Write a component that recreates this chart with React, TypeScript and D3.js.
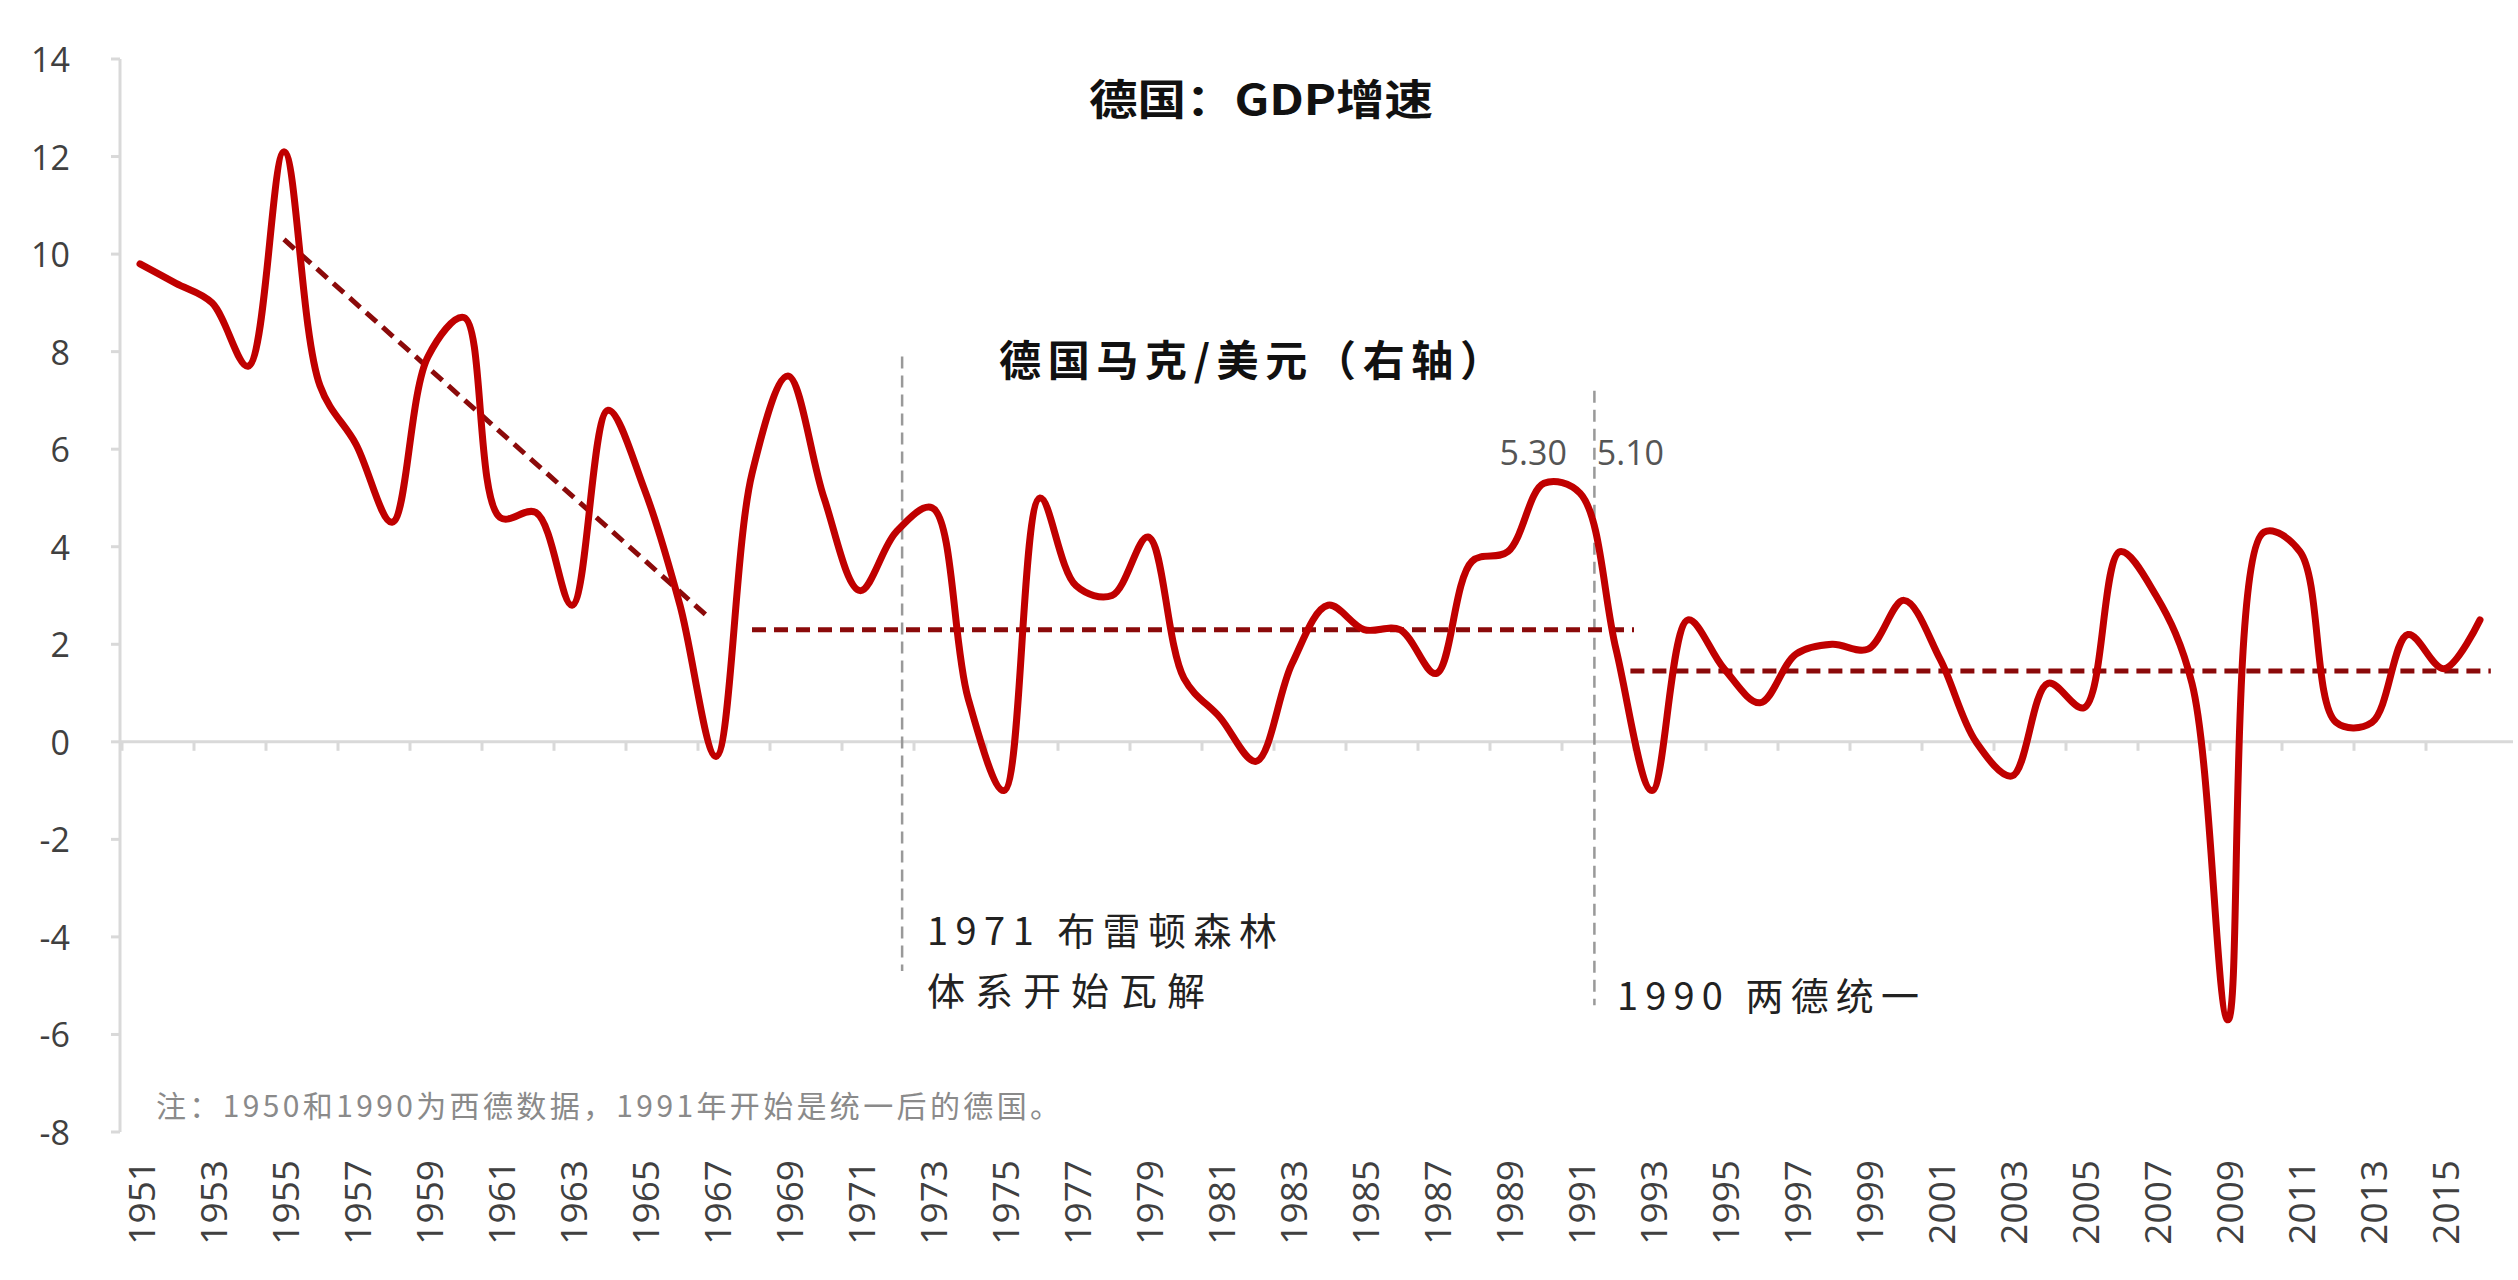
import React from "react";
import * as d3 from "d3";

const years: number[] = d3.range(1951, 2017);
const gdpGrowth: number[] = [
  9.8, 9.4, 9.0, 7.7, 12.1, 7.3, 6.1, 4.5, 7.9, 8.7,
  4.6, 4.7, 2.8, 6.8, 5.2, 2.8, -0.3, 5.5, 7.5, 5.0,
  3.1, 4.3, 4.8, 0.9, -1.0, 5.0, 3.2, 3.0, 4.2, 1.3,
  0.5, -0.4, 1.6, 2.8, 2.3, 2.3, 1.4, 3.7, 3.9, 5.3,
  5.1, 1.9, -1.0, 2.5, 1.5, 0.8, 1.8, 2.0, 1.9, 2.9,
  1.7, 0.0, -0.7, 1.2, 0.7, 3.9, 3.0, 1.2, -5.7, 4.3,
  3.9, 0.4, 0.4, 2.2, 1.5, 2.5,
];
const yTicks: number[] = [14, 12, 10, 8, 6, 4, 2, 0, -2, -4, -6, -8];
const xTickLabels: number[] = years.filter((y) => (y - 1951) % 2 === 0);

// trend (dashed) lines: [year, value]
const trend1: [number, number][] = [[1955, 10.3], [1966.8, 2.55]];
const trend2: [number, number][] = [[1968, 2.3], [1992.5, 2.3]];
const trend3: [number, number][] = [[1992.4, 1.45], [2016.3, 1.45]];

// vertical event markers: year, top value, bottom value
const events = [
  { year: 1972.17, top: 7.9, bottom: -4.7, lines: ["1971 布雷顿森林", "体系开始瓦解"] },
  { year: 1991.4, top: 7.2, bottom: -5.4, lines: ["1990 两德统一"] },
];
const peakLabels = [
  { year: 1989.7, value: 5.95, text: "5.30" },
  { year: 1992.4, value: 5.95, text: "5.10" },
];

const W = 2518;
const H = 1280;

export default function App() {
  const x = d3.scaleBand<number>().domain(years).range([122, 122 + 66 * 36]).padding(0);
  const bw = x.bandwidth();
  const xc = (yr: number) => (x(yr) as number) + bw / 2;
  const xl = d3
    .scaleLinear()
    .domain([1951, 2016])
    .range([xc(1951), xc(2016)]);
  const y = d3.scaleLinear().domain([-8, 14]).range([1132, 59]);

  const line = d3
    .line<number>()
    .x((_, i) => xc(years[i]))
    .y((d) => y(d))
    .curve(d3.curveCatmullRom.alpha(0.5));

  const seg = d3
    .line<[number, number]>()
    .x((d) => xl(d[0]))
    .y((d) => y(d[1]));

  const axisColor = "#d9d9d9";
  const labelColor = "#404040";
  const latinFont = "'Open Sans', 'Noto Sans', sans-serif";
  const cjkFont = "'Noto Sans CJK SC', 'Noto Sans', sans-serif";

  return (
    <svg
      width={W}
      height={H}
      style={{ position: "absolute", left: 0, top: 0, display: "block", background: "#fff" }}
    >
      {/* y axis */}
      <line x1={120} x2={120} y1={y(14)} y2={y(-8)} stroke={axisColor} strokeWidth={3} />
      {yTicks.map((t) => (
        <g key={t}>
          <line x1={111} x2={120} y1={y(t)} y2={y(t)} stroke={axisColor} strokeWidth={3} />
          <text
            x={70}
            y={y(t)}
            textAnchor="end"
            dominantBaseline="central"
            fontFamily={latinFont}
            fontSize={34}
            fill={labelColor}
          >
            {t}
          </text>
        </g>
      ))}
      {/* zero line */}
      <line x1={120} x2={2513} y1={y(0)} y2={y(0)} stroke={axisColor} strokeWidth={3} />
      {xTickLabels.map((yr) => (
        <line
          key={"t" + yr}
          x1={x(yr) as number}
          x2={x(yr) as number}
          y1={y(0)}
          y2={y(0) + 9}
          stroke={axisColor}
          strokeWidth={3}
        />
      ))}
      {/* x labels */}
      {xTickLabels.map((yr) => (
        <text
          key={yr}
          transform={`translate(${xc(yr)},1160) rotate(-90)`}
          textAnchor="end"
          dominantBaseline="central"
          fontFamily={latinFont}
          fontSize={37}
          fill={labelColor}
        >
          {yr}
        </text>
      ))}

      {/* event vertical lines */}
      {events.map((e) => (
        <line
          key={e.year}
          x1={xl(e.year)}
          x2={xl(e.year)}
          y1={y(e.top)}
          y2={y(e.bottom)}
          stroke="#999"
          strokeWidth={2.5}
          strokeDasharray="12 7"
        />
      ))}

      {/* trend lines */}
      {[trend1, trend2, trend3].map((t, i) => (
        <path
          key={i}
          d={seg(t) as string}
          fill="none"
          stroke="#8b0a0a"
          strokeWidth={5}
          strokeDasharray="14 8"
        />
      ))}

      {/* main series */}
      <path
        d={line(gdpGrowth) as string}
        fill="none"
        stroke="#c00000"
        strokeWidth={7}
        strokeLinejoin="round"
        strokeLinecap="round"
      />

      {/* peak labels */}
      {peakLabels.map((p) => (
        <text
          key={p.text}
          x={xl(p.year)}
          y={y(p.value)}
          textAnchor="middle"
          dominantBaseline="central"
          fontFamily={latinFont}
          fontSize={34}
          fill="#555"
        >
          {p.text}
        </text>
      ))}

      {/* title */}
      <text
        x={1089}
        y={96}
        dominantBaseline="central"
        fontFamily={cjkFont}
        fontWeight={700}
        fontSize={42}
        fill="#111"
        textLength={344}
        lengthAdjust="spacingAndGlyphs"
      >
        德国：GDP增速
      </text>
      <text
        x={999}
        y={357}
        dominantBaseline="central"
        fontFamily={cjkFont}
        fontWeight={700}
        fontSize={42}
        fill="#111"
        textLength={503}
        lengthAdjust="spacing"
      >
        德国马克/美元（右轴）
      </text>

      {/* event annotations */}
      <text x={927} y={928} dominantBaseline="central" fontFamily={cjkFont} fontSize={38} fill="#222" textLength={350} lengthAdjust="spacing">
        {events[0].lines[0]}
      </text>
      <text x={927} y={988} dominantBaseline="central" fontFamily={cjkFont} fontSize={38} fill="#222" textLength={278} lengthAdjust="spacing">
        {events[0].lines[1]}
      </text>
      <text x={1617} y={993} dominantBaseline="central" fontFamily={cjkFont} fontSize={38} fill="#222" textLength={302} lengthAdjust="spacing">
        {events[1].lines[0]}
      </text>

      {/* note */}
      <text
        x={156}
        y={1104}
        dominantBaseline="central"
        fontFamily={cjkFont}
        fontSize={30}
        fill="#8a8a8a"
        textLength={904}
        lengthAdjust="spacing"
      >
        注：1950和1990为西德数据，1991年开始是统一后的德国。
      </text>
    </svg>
  );
}
